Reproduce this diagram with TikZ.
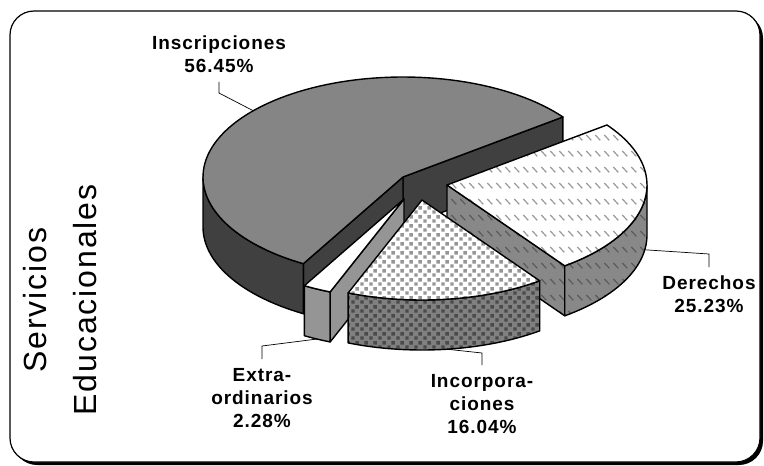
\documentclass[tikz,border=0pt]{standalone}
\usepackage{fontspec}
\setmainfont{Liberation Sans}
\newfontfamily\lblfont[LetterSpace=5]{Liberation Sans}
\newfontfamily\titfont[LetterSpace=6]{Liberation Sans}
\usetikzlibrary{patterns,calc}

\pgfdeclarepatternformonly{dashrow}{\pgfqpoint{0pt}{0pt}}{\pgfqpoint{9pt}{16pt}}{\pgfqpoint{9pt}{16pt}}{%
  \pgfsetlinewidth{1.3pt}%
  \pgfpathmoveto{\pgfqpoint{1.5pt}{11.5pt}}%
  \pgfpathlineto{\pgfqpoint{7pt}{6pt}}%
  \pgfusepath{stroke}}
\pgfdeclarepatternformonly{sqdots}{\pgfqpoint{0pt}{0pt}}{\pgfqpoint{9pt}{9pt}}{\pgfqpoint{9pt}{9pt}}{%
  \pgfpathrectangle{\pgfqpoint{0.3pt}{0.3pt}}{\pgfqpoint{3.8pt}{3.8pt}}%
  \pgfpathrectangle{\pgfqpoint{4.8pt}{4.8pt}}{\pgfqpoint{3.8pt}{3.8pt}}%
  \pgfusepath{fill}}

\definecolor{insTop}{HTML}{858585}
\definecolor{insSide}{HTML}{404040}
\definecolor{derSide}{HTML}{888888}
\definecolor{derDashTop}{HTML}{999999}
\definecolor{derDashSide}{HTML}{5A5A5A}
\definecolor{incSide}{HTML}{808080}
\definecolor{incDotTop}{HTML}{969696}
\definecolor{incDotSide}{HTML}{4A4A4A}
\definecolor{extSide}{HTML}{959595}

\tikzset{
  rimline/.style={draw=black, line width=1.4pt, line join=round},
  instop/.style={rimline, fill=insTop},
  insside/.style={rimline, fill=insSide},
  dertop/.style={rimline, preaction={fill=white}, pattern=dashrow, pattern color=derDashTop},
  derside/.style={rimline, preaction={fill=derSide}, pattern=dashrow, pattern color=derDashSide},
  inctop/.style={rimline, preaction={fill=white}, pattern=sqdots, pattern color=incDotTop},
  incside/.style={rimline, preaction={fill=incSide}, pattern=sqdots, pattern color=incDotSide},
  exttop/.style={rimline, fill=white},
  extside/.style={rimline, fill=extSide},
  leader/.style={draw=black, line width=0.7pt},
  lbl/.style={font=\lblfont\bfseries\fontsize{19}{23}\selectfont, align=center, inner sep=0pt, outer sep=9pt, anchor=north},
  ttl/.style={font=\titfont\fontsize{32}{50}\selectfont, align=center, inner sep=0pt},
}

\begin{document}
\begin{tikzpicture}[x=1pt,y=-1pt]
\useasboundingbox (0,0) rectangle (764,466);

% frame with shadow
\fill[black, rounded corners=24pt] (13,14) rectangle (763,465);
\draw[fill=white, line width=1.2pt, rounded corners=24pt] (10,11) rectangle (760,462);

\def\ra{200}\def\rb{100}\def\dep{50}
% centres of the exploded slices
\def\Ix{403}\def\Iy{177}
\def\Dx{447}\def\Dy{185}
\def\Px{422}\def\Py{200}
\def\Ex{404}\def\Ey{199}

% ---- Inscripciones (36.9 .. 240.12)
\draw[insside] (\Ix,\Iy) -- ({\Ix+\ra*cos(36.9)},{\Iy-\rb*sin(36.9)}) -- ++(0,\dep) -- (\Ix,{\Iy+\dep}) -- cycle;
\draw[insside] (\Ix,\Iy) -- ({\Ix+\ra*cos(240.12)},{\Iy-\rb*sin(240.12)}) -- ++(0,\dep) -- (\Ix,{\Iy+\dep}) -- cycle;
\draw[insside] plot[domain=180:240.12,samples=30] ({\Ix+\ra*cos(\x)},{\Iy-\rb*sin(\x)})
   -- plot[domain=240.12:180,samples=30] ({\Ix+\ra*cos(\x)},{\Iy+\dep-\rb*sin(\x)}) -- cycle;
\draw[instop] (\Ix,\Iy) -- plot[domain=36.9:240.12,samples=90] ({\Ix+\ra*cos(\x)},{\Iy-\rb*sin(\x)}) -- cycle;

% ---- Derechos (-53.93 .. 36.9)
\draw[derside] (\Dx,\Dy) -- ({\Dx+\ra*cos(-53.93)},{\Dy-\rb*sin(-53.93)}) -- ++(0,\dep) -- (\Dx,{\Dy+\dep}) -- cycle;
\draw[derside] plot[domain=-53.93:0,samples=30] ({\Dx+\ra*cos(\x)},{\Dy-\rb*sin(\x)})
   -- plot[domain=0:-53.93,samples=30] ({\Dx+\ra*cos(\x)},{\Dy+\dep-\rb*sin(\x)}) -- cycle;
\draw[dertop] (\Dx,\Dy) -- plot[domain=-53.93:36.9,samples=50] ({\Dx+\ra*cos(\x)},{\Dy-\rb*sin(\x)}) -- cycle;

% ---- Extraordinarios (-119.88 .. -111.67)
\draw[extside] (\Ex,\Ey) -- ({\Ex+\ra*cos(-111.67)},{\Ey-\rb*sin(-111.67)}) -- ++(0,\dep) -- (\Ex,{\Ey+\dep}) -- cycle;
\draw[extside] plot[domain=-119.88:-111.67,samples=10] ({\Ex+\ra*cos(\x)},{\Ey-\rb*sin(\x)})
   -- plot[domain=-111.67:-119.88,samples=10] ({\Ex+\ra*cos(\x)},{\Ey+\dep-\rb*sin(\x)}) -- cycle;
\draw[exttop] (\Ex,\Ey) -- plot[domain=-119.88:-111.67,samples=10] ({\Ex+\ra*cos(\x)},{\Ey-\rb*sin(\x)}) -- cycle;

% ---- Incorporaciones (-111.67 .. -53.93)
\draw[incside] plot[domain=-111.67:-53.93,samples=40] ({\Px+\ra*cos(\x)},{\Py-\rb*sin(\x)})
   -- plot[domain=-53.93:-111.67,samples=40] ({\Px+\ra*cos(\x)},{\Py+\dep-\rb*sin(\x)}) -- cycle;
\draw[inctop] (\Px,\Py) -- plot[domain=-111.67:-53.93,samples=40] ({\Px+\ra*cos(\x)},{\Py-\rb*sin(\x)}) -- cycle;

% ---- leader anchor points
\coordinate (aI) at ({\Ix+\ra*cos(138.5)},{\Iy-\rb*sin(138.5)});
\coordinate (aD) at ({\Dx+\ra*cos(-8.5)},{\Dy+\dep-\rb*sin(-8.5)});
\coordinate (aE) at ({\Ex+\ra*cos(-115.8)},{\Ey+\dep-\rb*sin(-115.8)});
\coordinate (aP) at ({\Px+\ra*cos(-82.8)},{\Py+\dep-\rb*sin(-82.8)});
\coordinate (kI) at (219,93);
\coordinate (kD) at (709,254);
\coordinate (kE) at (262,346);
\coordinate (kP) at (482,353);

% ---- labels
\node[lbl] (lblI) at (219,27) {Inscripciones\\56.45\%};
\node[lbl] (lblD) at (709,267) {Derechos\\25.23\%};
\node[lbl] (lblE) at (262,359) {Extra-\\ordinarios\\2.28\%};
\node[lbl] (lblP) at (482,365) {Incorpora-\\ciones\\16.04\%};

\draw[leader] (aI) -- (kI) -- (lblI.south);
\draw[leader] (aD) -- (kD) -- (lblD.north);
\draw[leader] (aE) -- (kE) -- (lblE.north);
\draw[leader] (aP) -- (kP) -- (lblP.north);

% ---- title
\node[ttl, rotate=90] (tit) at (60.5,300) {Servicios\\Educacionales};
\end{tikzpicture}
\end{document}
